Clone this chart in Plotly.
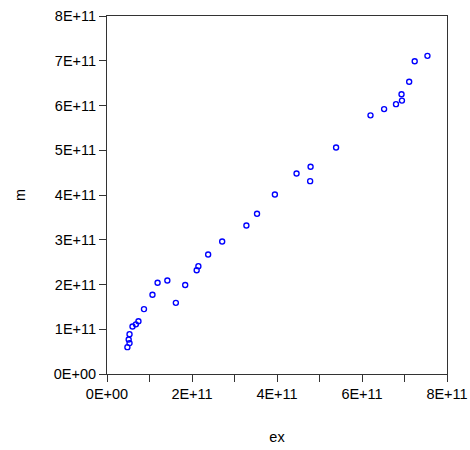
import plotly.graph_objects as go

ex = [7.54e11, 7.24e11, 7.11e11, 6.93e11, 6.94e11, 6.80e11, 6.52e11, 6.20e11,
      5.39e11, 4.79e11, 4.46e11, 4.78e11, 3.95e11, 3.53e11, 3.28e11, 2.71e11,
      2.38e11, 2.15e11, 2.11e11, 1.42e11, 1.19e11, 1.84e11, 1.07e11, 1.62e11,
      0.87e11, 0.74e11, 0.68e11, 0.60e11, 0.53e11, 0.51e11, 0.53e11, 0.48e11]
m = [7.11e11, 6.99e11, 6.53e11, 6.25e11, 6.11e11, 6.03e11, 5.92e11, 5.78e11,
     5.06e11, 4.63e11, 4.48e11, 4.31e11, 4.01e11, 3.58e11, 3.32e11, 2.96e11,
     2.67e11, 2.41e11, 2.32e11, 2.09e11, 2.04e11, 1.99e11, 1.77e11, 1.59e11,
     1.45e11, 1.18e11, 1.11e11, 1.06e11, 0.89e11, 0.77e11, 0.69e11, 0.60e11]

x_tickvals = [0, 2e11, 4e11, 6e11, 8e11]
x_ticktext = ["0E+00", "2E+11", "4E+11", "6E+11", "8E+11"]
y_tickvals = [0, 1e11, 2e11, 3e11, 4e11, 5e11, 6e11, 7e11, 8e11]
y_ticktext = ["0E+00", "1E+11", "2E+11", "3E+11", "4E+11", "5E+11", "6E+11", "7E+11", "8E+11"]

fig = go.Figure(go.Scatter(
    x=ex, y=m, mode="markers",
    marker=dict(symbol="circle-open", size=5, color="#0000FF", line=dict(width=1.4, color="#0000FF")),
    showlegend=False,
))

axis_common = dict(
    showgrid=False, zeroline=False, showline=True, linecolor="#333333", linewidth=1,
    mirror=True, ticks="outside", ticklen=7, tickwidth=1, tickcolor="#333333",
    tickfont=dict(family="Liberation Sans, Arial", size=14.5, color="#000000"),
    automargin=False, ticklabeloverflow="allow",
)

fig.update_layout(
    width=470, height=450,
    margin=dict(l=107, r=23, t=16, b=76),
    paper_bgcolor="white", plot_bgcolor="white",
    font=dict(family="Liberation Sans, Arial", size=14.5, color="#000000"),
    xaxis=dict(
        range=[0, 8e11], tickmode="array", tickvals=x_tickvals, ticktext=x_ticktext,
        minor=dict(dtick=1e11, tick0=0, ticks="outside", ticklen=7, tickcolor="#333333"),
        title=dict(text="ex", standoff=30, font=dict(size=14.5)),
        **axis_common,
    ),
    yaxis=dict(
        range=[0, 8e11], tickmode="array", tickvals=y_tickvals, ticktext=y_ticktext,
        title=dict(text="m", standoff=24, font=dict(size=14.5)),
        **axis_common,
    ),
)

fig.write_html(
    "out.html",
    config={"displayModeBar": False},
    post_script="document.body.style.margin='0px';document.body.style.overflow='hidden';",
)
